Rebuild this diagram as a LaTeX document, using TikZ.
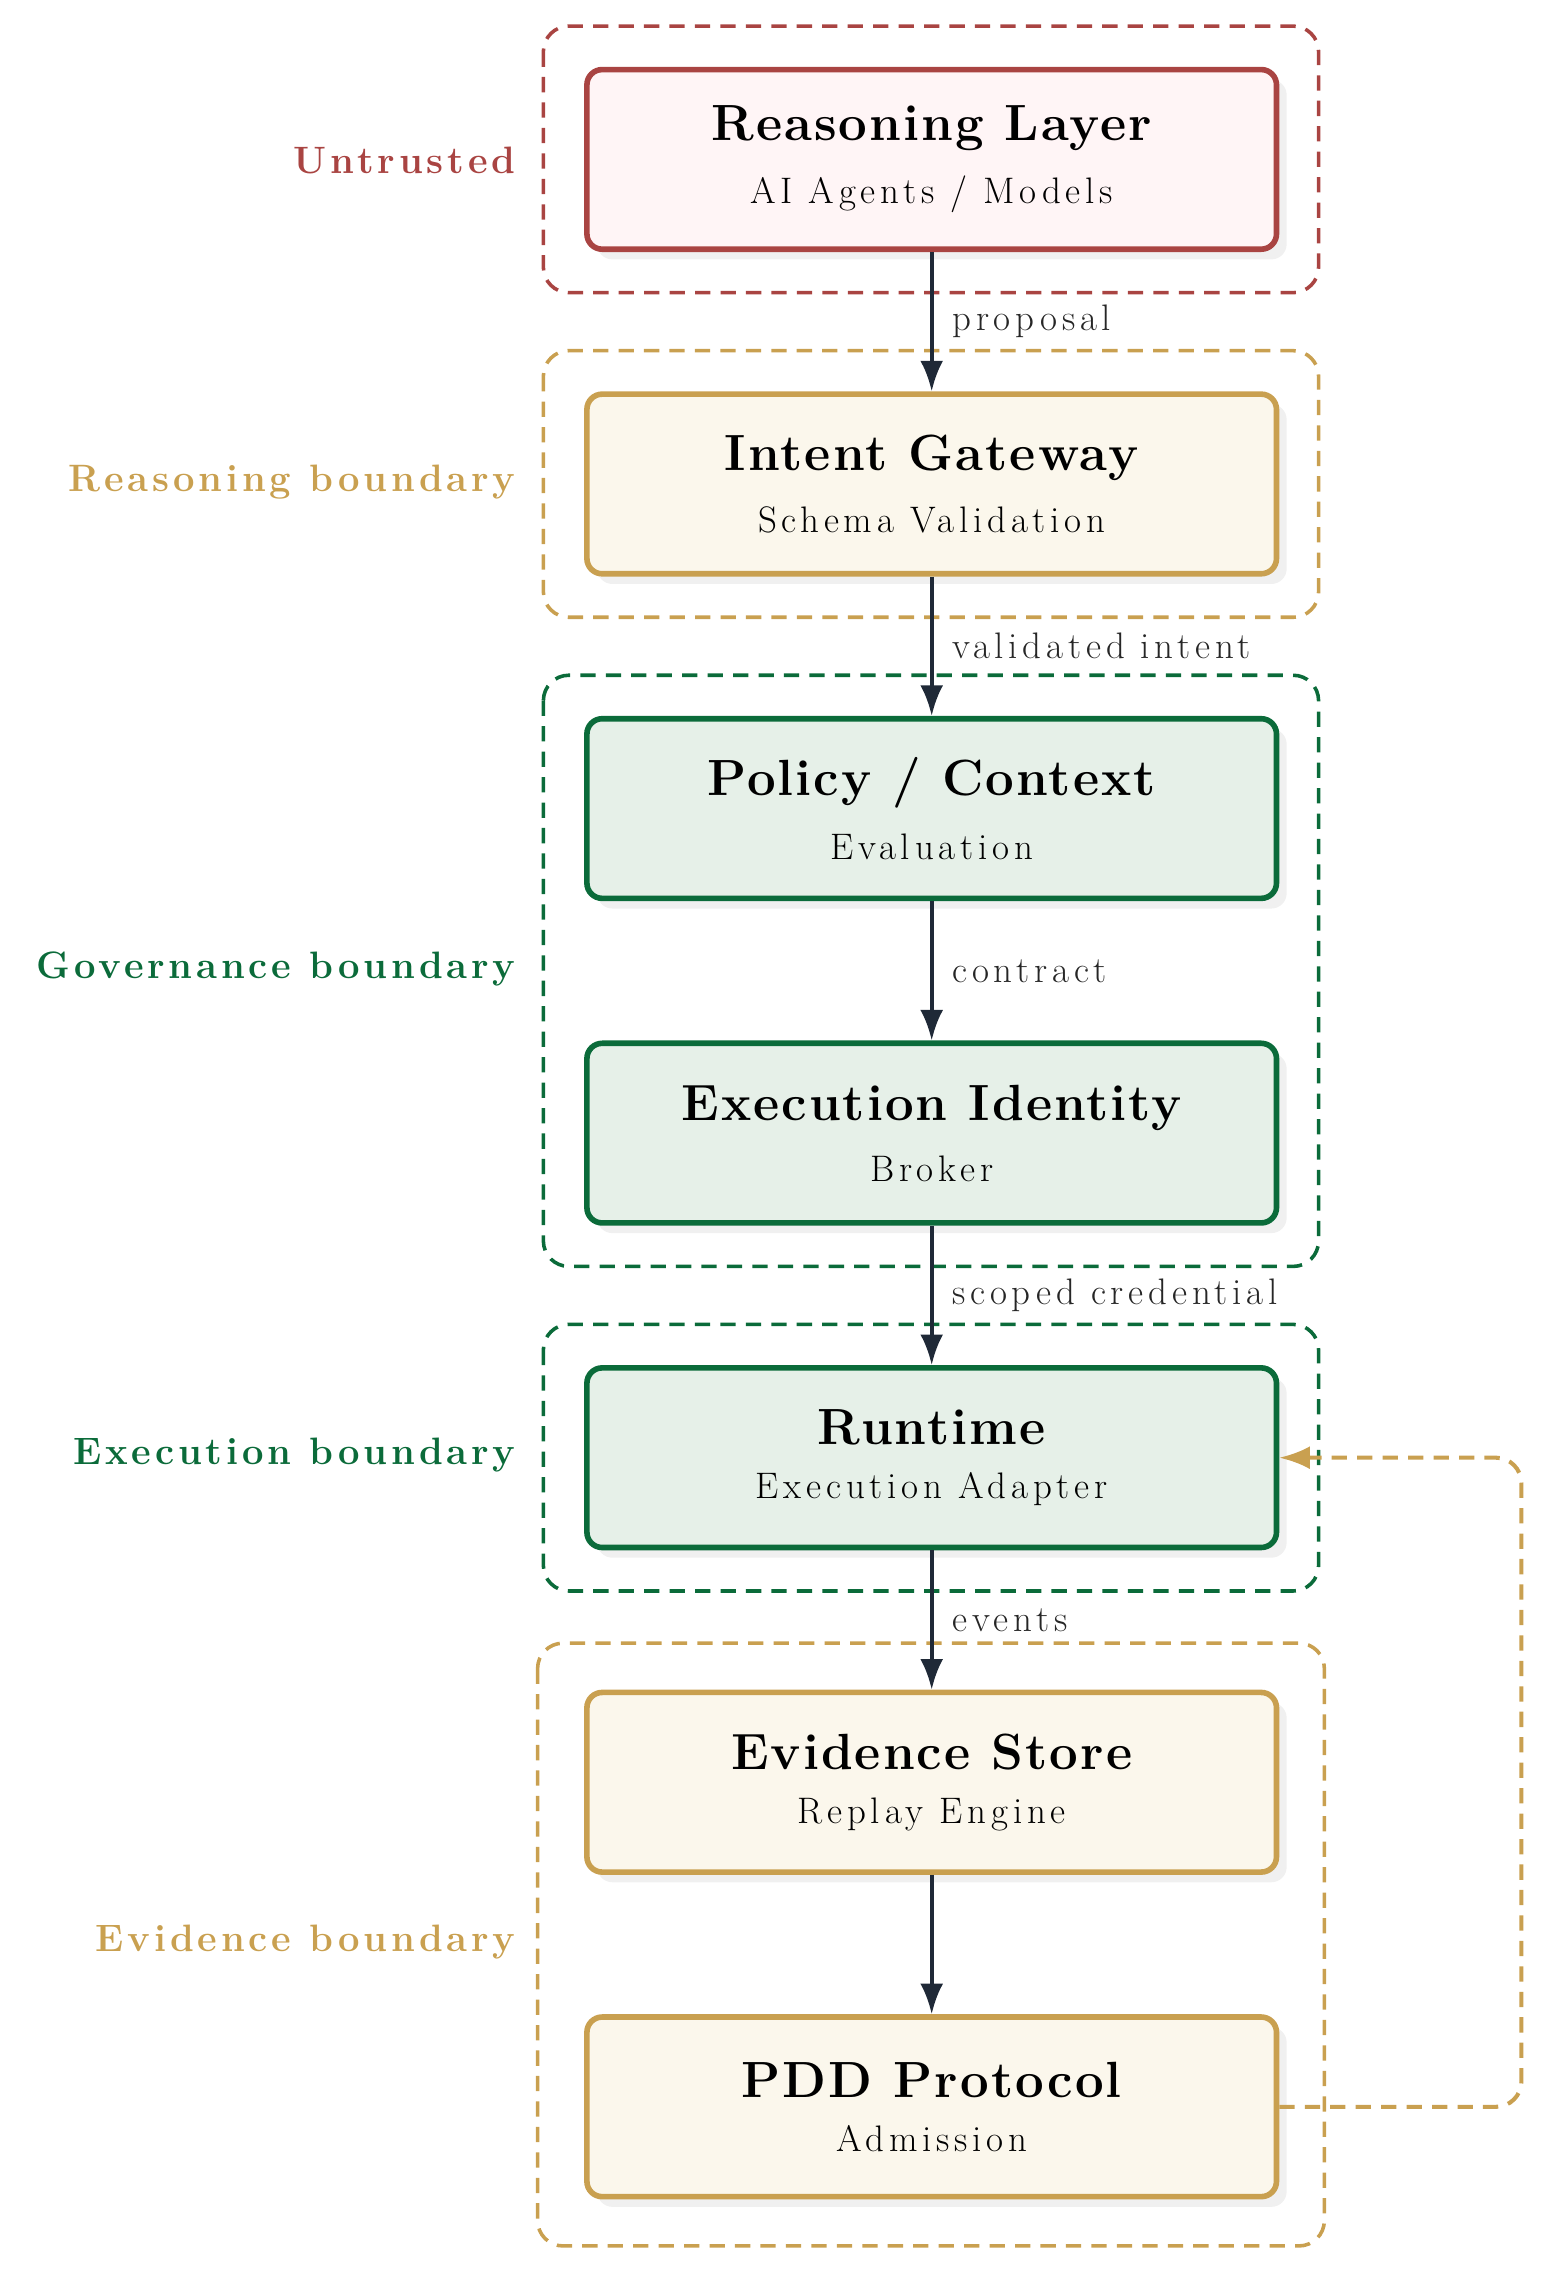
\documentclass[tikz,border=0pt]{standalone}
\usepackage{fontspec}
\setmainfont{Latin Modern Roman}
\usepackage{tikz}
\usetikzlibrary{positioning,arrows.meta,shadows}
\definecolor{untrust}{HTML}{A94442}
\definecolor{untrustfill}{HTML}{FFF5F6}
\definecolor{gold}{HTML}{C9A050}
\definecolor{goldfill}{HTML}{FBF7EC}
\definecolor{gov}{HTML}{0B6B3A}
\definecolor{govfill}{HTML}{E6F0E8}
\definecolor{ink}{HTML}{1F2937}
\tikzset{
  stage/.style={draw=#1, fill=#1fill, line width=2.2pt, rounded corners=6pt,
    minimum width=9.52cm, minimum height=2.48cm, align=center,
    drop shadow={opacity=0.12, shadow xshift=4pt, shadow yshift=-4pt}},
  zone/.style={draw=#1, dash pattern=on 6pt off 4pt, line width=1.4pt, rounded corners=10pt},
  zonelabel/.style={anchor=east, text=#1, font=\fontsize{15}{18}\selectfont\bfseries\addfontfeatures{LetterSpace=10}},
  flow/.style={draw=ink, line width=1.6pt, -{Latex[length=12pt,width=9pt]}},
  flowlabel/.style={font=\fontsize{14.5}{16}\selectfont\addfontfeatures{LetterSpace=13}, anchor=west, text=black!85, xshift=4pt},
}
\newcommand{\stagetext}[2]{{\fontsize{20}{24}\selectfont\bfseries\addfontfeatures{LetterSpace=4}#1}\\[9pt]{\fontsize{14.5}{17}\selectfont\addfontfeatures{LetterSpace=13}#2}}
\begin{document}
\begin{tikzpicture}[x=0.02cm,y=-0.02cm]
  \useasboundingbox (0,0) rectangle (1078,1568);
  % zones
  \draw[zone=untrust] (375,18) rectangle (910,202);
  \draw[zone=gold] (375,242) rectangle (910,426);
  \draw[zone=gov] (375,466) rectangle (910,874);
  \draw[zone=gov] (375,914) rectangle (910,1098);
  \draw[zone=gold] (371,1134) rectangle (914,1550);
  \node[zonelabel=untrust] (zu) at (362,111) {Untrusted};
  \node[zonelabel=gold] (zr) at (362,333) {Reasoning boundary};
  \node[zonelabel=gov] (zg) at (362,669) {Governance boundary};
  \node[zonelabel=gov] (ze) at (362,1004) {Execution boundary};
  \node[zonelabel=gold] (zv) at (362,1340) {Evidence boundary};
  % stages
  \node[stage=untrust] (reason) at (643,110) {\stagetext{Reasoning Layer}{AI Agents / Models}};
  \node[stage=gold] (gateway) at (643,334) {\stagetext{Intent Gateway}{Schema Validation}};
  \node[stage=gov] (policy) at (643,558) {\stagetext{Policy / Context}{Evaluation}};
  \node[stage=gov] (identity) at (643,782) {\stagetext{Execution Identity}{Broker}};
  \node[stage=gov] (runtime) at (643,1006) {\stagetext{Runtime}{Execution Adapter}};
  \node[stage=gold] (evidence) at (643,1230) {\stagetext{Evidence Store}{Replay Engine}};
  \node[stage=gold] (pdd) at (643,1454) {\stagetext{PDD Protocol}{Admission}};
  % flows
  \draw[flow] (reason) -- node[flowlabel, pos=0.5] {proposal} (gateway);
  \draw[flow] (gateway) -- node[flowlabel, pos=0.5] {validated intent} (policy);
  \draw[flow] (policy) -- node[flowlabel, pos=0.5] {contract} (identity);
  \draw[flow] (identity) -- node[flowlabel, pos=0.5] {scoped credential} (runtime);
  \draw[flow] (runtime) -- node[flowlabel, pos=0.5] {events} (evidence);
  \draw[flow] (evidence) -- (pdd);
  \coordinate (loopb) at (1050,1454);
  \coordinate (loopt) at (1050,1006);
  \draw[draw=gold, dash pattern=on 6pt off 4pt, line width=1.6pt, rounded corners=10pt, -{Latex[length=12pt,width=9pt]}]
    (pdd.east) -- (loopb) -- (loopt) -- (runtime.east);
\end{tikzpicture}
\end{document}
